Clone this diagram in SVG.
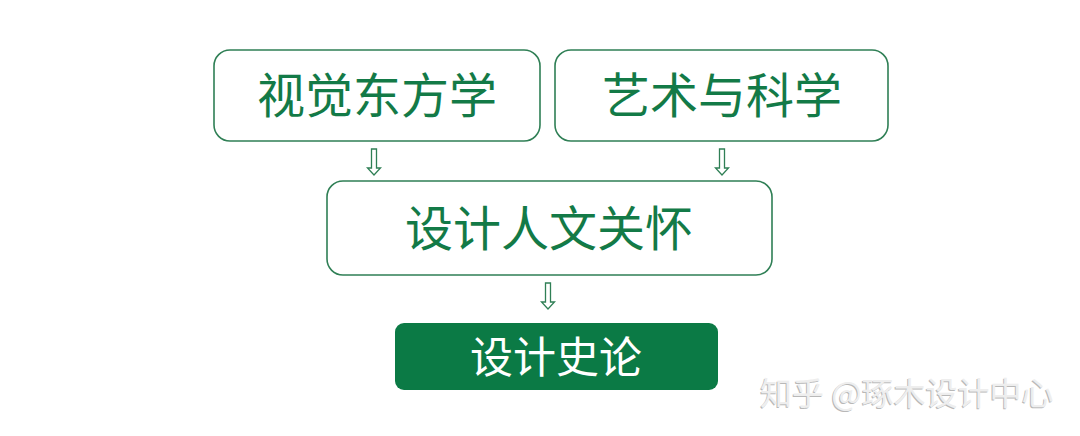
<svg xmlns="http://www.w3.org/2000/svg" width="1080" height="436" viewBox="0 0 1080 436">
<style>
.box{fill:#fff;stroke:#2f7f55;stroke-width:1.6}
.t{font-family:"Noto Sans CJK SC","Noto Sans",sans-serif;font-size:48px;font-weight:400;fill:#137a47;text-anchor:middle}
.arr{fill:#fff;stroke:#2f7f55;stroke-width:1.3;stroke-linejoin:miter}
.wm{font-family:"Noto Sans CJK SC","Noto Sans",sans-serif;font-size:32px;text-anchor:start}
</style>
<rect width="1080" height="436" fill="#fff"/>
<g id="node-visual">
<rect class="box" x="214" y="50" width="326" height="91" rx="16"/>
<text class="t" x="377" y="113">视觉东方学</text>
</g>
<g id="node-art">
<rect class="box" x="555" y="50" width="333" height="91" rx="16"/>
<text class="t" x="722" y="113">艺术与科学</text>
</g>
<g id="node-human">
<rect class="box" x="327" y="181" width="445" height="94" rx="16"/>
<text class="t" x="549" y="246">设计人文关怀</text>
</g>
<g id="node-history">
<rect x="395" y="323" width="323" height="67" rx="9" fill="#0b7a45"/>
<text class="t" x="556" y="373" style="fill:#fff;font-size:43px">设计史论</text>
</g>
<g id="connectors">
<path class="arr" d="M371.5,149 h5 v19 h4 l-6.5,7 l-6.5,-7 h4 z"/>
<path class="arr" d="M719.5,149 h5 v19 h4 l-6.5,7 l-6.5,-7 h4 z"/>
<path class="arr" d="M545.5,283 h5 v19 h4 l-6.5,7 l-6.5,-7 h4 z"/>
</g>
<g id="watermark">
<text class="wm" x="759" y="406" fill="#b8b8b8">知乎 @琢木设计中心</text>
<text class="wm" x="760" y="405" fill="#eeeeee">知乎 @琢木设计中心</text>
</g>
</svg>
